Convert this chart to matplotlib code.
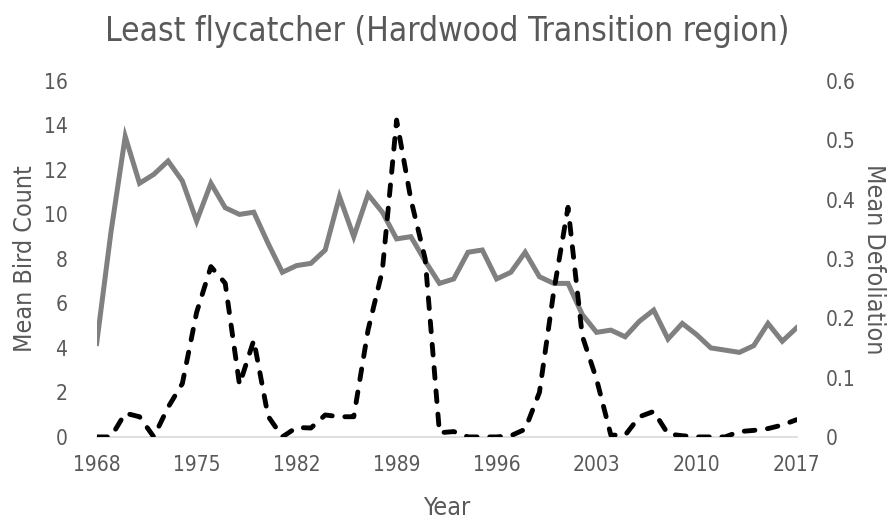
import matplotlib
matplotlib.use("Agg")
import matplotlib.pyplot as plt
from matplotlib import font_manager

# Excel look uses Calibri; try a condensed face if the box has one
fam, stretch = "Liberation Sans", "normal"
for f in font_manager.fontManager.ttflist:
    narrow = ('Narrow' in f.name or 'Condensed' in f.name
              or f.stretch in ('condensed', 'semi-condensed'))
    if narrow and f.style == 'normal' and f.weight in (400, 'normal', 'regular'):
        fam, stretch = f.name, f.stretch
        break
plt.rcParams['font.family'] = [fam, 'DejaVu Sans']
plt.rcParams['font.stretch'] = stretch

years = list(range(1968, 2018))

bird_count = [4.2, 9.2, 13.5, 11.4, 11.8, 12.4, 11.5, 9.7, 11.4, 10.3,
              10.0, 10.1, 8.7, 7.4, 7.7, 7.8, 8.4, 10.8, 9.0, 10.9,
              10.1, 8.9, 9.0, 7.9, 6.9, 7.1, 8.3, 8.4, 7.1, 7.4,
              8.3, 7.2, 6.9, 6.9, 5.5, 4.7, 4.8, 4.5, 5.2, 5.7,
              4.4, 5.1, 4.6, 4.0, 3.9, 3.8, 4.1, 5.1, 4.3, 4.9]

defoliation = [0.0, 0.0, 0.04, 0.034, 0.0, 0.05, 0.09, 0.21, 0.287, 0.259,
               0.088, 0.163, 0.035, 0.0, 0.016, 0.015, 0.037, 0.034, 0.034, 0.18,
               0.28, 0.534, 0.40, 0.30, 0.007, 0.009, 0.0, 0.0, 0.0, 0.002,
               0.013, 0.075, 0.245, 0.387, 0.17, 0.097, 0.003, 0.003, 0.034, 0.043,
               0.005, 0.002, 0.0, 0.0, 0.0, 0.009, 0.011, 0.014, 0.02, 0.029]

xticks = [1968, 1975, 1982, 1989, 1996, 2003, 2010, 2017]

txt = '#595959'

fig = plt.figure(figsize=(8.95, 5.22), dpi=100)
ax = fig.add_axes([0.108, 0.163, 0.782, 0.682])
ax2 = ax.twinx()

ax.plot(years, bird_count, color='#808080', lw=3.6, solid_joinstyle='miter', zorder=2)
ax2.plot(years, defoliation, color='black', lw=3.5, dashes=(2.2, 2.6),
         dash_capstyle='round', zorder=3)

ax.set_xlim(1968, 2017)
ax.set_ylim(0, 16)
ax2.set_ylim(0, 0.6)
ax.set_xticks(xticks)
ax.set_yticks(range(0, 17, 2))
ax2.set_yticks([0, 0.1, 0.2, 0.3, 0.4, 0.5, 0.6])
ax2.set_yticklabels(['0', '0.1', '0.2', '0.3', '0.4', '0.5', '0.6'])

for a in (ax, ax2):
    for s in a.spines.values():
        s.set_visible(False)
    a.tick_params(length=0, labelsize=15, colors=txt)
ax.spines['bottom'].set_visible(True)
ax.spines['bottom'].set_color('#d9d9d9')
ax.spines['bottom'].set_linewidth(1.2)
ax.tick_params(axis='x', pad=13)
ax.tick_params(axis='y', pad=21)
ax2.tick_params(axis='y', pad=21)

ax.set_xlabel('Year', fontsize=18, color=txt, labelpad=15)
ax.set_ylabel('Mean Bird Count', fontsize=18, color=txt, labelpad=5)
ax2.set_ylabel('Mean Defoliation', fontsize=18, color=txt, rotation=270, labelpad=22)
fig.suptitle('Least flycatcher (Hardwood Transition region)', fontsize=24,
             color=txt, y=0.972)

fig.savefig('out.png', dpi=100)
